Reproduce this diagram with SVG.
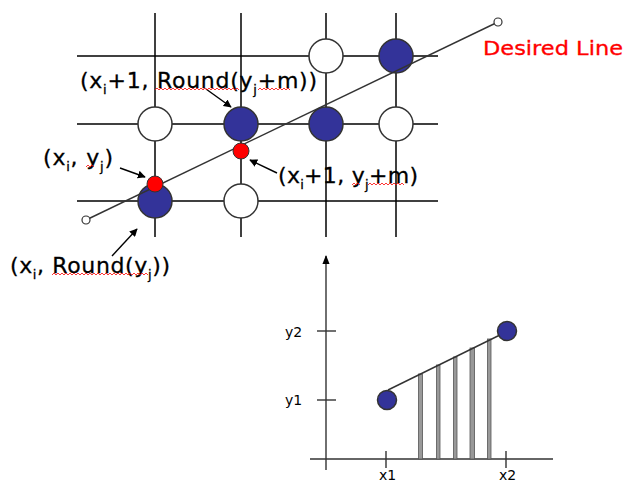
<svg xmlns="http://www.w3.org/2000/svg" width="626" height="482" viewBox="0 0 626 482">
<defs>
<style>
.grid{stroke:#000;stroke-width:1.5;fill:none}
.blue{fill:#333399;stroke:#333;stroke-width:1.5}
.white{fill:#fff;stroke:#333;stroke-width:1.5}
.red{fill:#ff0000;stroke:#333;stroke-width:1}
.ln{stroke:#333;stroke-width:1.4;fill:none}
.arr{stroke:#000;stroke-width:1.4;fill:none;marker-end:url(#ah)}
.lbl{font-family:"DejaVu Sans",Tahoma,sans-serif;font-size:22px;fill:#000;stroke:#000;stroke-width:0.3}
.sub{font-size:13px}
.small{font-family:"DejaVu Sans",Verdana,sans-serif;font-size:14px;fill:#000}
.sq{stroke:#ff0000;stroke-width:0.8;fill:none}
.bar{fill:#999;stroke:#555;stroke-width:0.8}
</style>
<marker id="ah" viewBox="0 0 10 10" refX="9" refY="5" markerWidth="8" markerHeight="8" markerUnits="userSpaceOnUse" orient="auto">
<path d="M0,0 L10,5 L0,10 z" fill="#000"/>
</marker>
<marker id="ah2" viewBox="0 0 10 10" refX="9" refY="5" markerWidth="9" markerHeight="9" markerUnits="userSpaceOnUse" orient="auto">
<path d="M0,1 L10,5 L0,9 z" fill="#000"/>
</marker>
</defs>

<g id="grid">
<line class="grid" x1="155" y1="13" x2="155" y2="237"/>
<line class="grid" x1="241" y1="13" x2="241" y2="237"/>
<line class="grid" x1="326" y1="13" x2="326" y2="237"/>
<line class="grid" x1="396" y1="13" x2="396" y2="237"/>
<line class="grid" x1="77" y1="56" x2="438" y2="56"/>
<line class="grid" x1="77" y1="124" x2="438" y2="124"/>
<line class="grid" x1="77" y1="201" x2="438" y2="201"/>
</g>

<g id="pixels">
<circle id="p1" class="white" cx="326" cy="56" r="17"/>
<circle id="p2" class="blue" cx="396" cy="56" r="17"/>
<circle id="p3" class="white" cx="155" cy="124" r="17"/>
<circle id="p4" class="blue" cx="241" cy="124" r="17"/>
<circle id="p5" class="blue" cx="326" cy="124" r="17"/>
<circle id="p6" class="white" cx="396" cy="124" r="17"/>
<circle id="p7" class="blue" cx="155" cy="201" r="17"/>
<circle id="p8" class="white" cx="241" cy="201" r="17"/>
</g>

<g id="desired-line">
<line class="ln" x1="86" y1="220" x2="498" y2="22"/>
<circle cx="86" cy="220" r="4" fill="#fff" stroke="#333" stroke-width="1.2"/>
<circle cx="498" cy="22" r="4" fill="#fff" stroke="#333" stroke-width="1.2"/>
<text x="483" y="55" font-family="DejaVu Sans,Tahoma,sans-serif" font-size="20" fill="#ff0000" stroke="#ff0000" stroke-width="0.3" textLength="140" lengthAdjust="spacingAndGlyphs">Desired Line</text>
</g>

<g id="red-points">
<circle class="red" cx="155" cy="184" r="8"/>
<circle class="red" cx="241" cy="151" r="8"/>
</g>

<g id="connectors">
<line class="arr" x1="206" y1="89" x2="231" y2="107"/>
<line class="arr" x1="120" y1="168" x2="145" y2="177"/>
<line class="arr" x1="277" y1="173" x2="250" y2="160"/>
<line class="arr" x1="112" y1="256" x2="137" y2="229"/>
</g>

<g id="labels">
<text class="lbl" x="80" y="88" textLength="237" lengthAdjust="spacing">(x<tspan class="sub" dy="6">i</tspan><tspan dy="-6">+1, Round(y</tspan><tspan class="sub" dy="6">j</tspan><tspan dy="-6">+m))</tspan></text>
<text class="lbl" x="43" y="165" textLength="70" lengthAdjust="spacing">(x<tspan class="sub" dy="6">i</tspan><tspan dy="-6">, y</tspan><tspan class="sub" dy="6">j</tspan><tspan dy="-6">)</tspan></text>
<text class="lbl" x="278" y="183" textLength="140" lengthAdjust="spacing">(x<tspan class="sub" dy="6">i</tspan><tspan dy="-6">+1, y</tspan><tspan class="sub" dy="6">j</tspan><tspan dy="-6">+m)</tspan></text>
<text class="lbl" x="10" y="273" textLength="160" lengthAdjust="spacing">(x<tspan class="sub" dy="6">i</tspan><tspan dy="-6">, Round(y</tspan><tspan class="sub" dy="6">j</tspan><tspan dy="-6">))</tspan></text>
<path class="sq" d="M155,90 l2,-2 l2,2 l2,-2 l2,2 l2,-2 l2,2 l2,-2 l2,2 l2,-2 l2,2 l2,-2 l2,2 l2,-2 l2,2 l2,-2 l2,2 l2,-2 l2,2 l2,-2 l2,2 l2,-2 l2,2 l2,-2 l2,2 l2,-2 l2,2 l2,-2 l2,2 l2,-2 l2,2 l2,-2 l2,2 l2,-2 l2,2 l2,-2 l2,2 l2,-2 l2,2 l2,-2 l2,2 l2,-2 l2,2"/>
<path class="sq" d="M258,90 l2,-2 l2,2 l2,-2 l2,2 l2,-2 l2,2 l2,-2 l2,2 l2,-2 l2,2 l2,-2 l2,2 l2,-2 l2,2 l2,-2 l2,2"/>
<path class="sq" d="M86,167 l2,-2 l2,2 l2,-2 l2,2"/>
<path class="sq" d="M352,185 l2,-2 l2,2 l2,-2 l2,2"/>
<path class="sq" d="M368,185 l2,-2 l2,2 l2,-2 l2,2 l2,-2 l2,2 l2,-2 l2,2 l2,-2 l2,2 l2,-2 l2,2 l2,-2 l2,2 l2,-2 l2,2 l2,-2 l2,2"/>
<path class="sq" d="M52,275 l2,-2 l2,2 l2,-2 l2,2 l2,-2 l2,2 l2,-2 l2,2 l2,-2 l2,2 l2,-2 l2,2 l2,-2 l2,2 l2,-2 l2,2 l2,-2 l2,2 l2,-2 l2,2 l2,-2 l2,2 l2,-2 l2,2 l2,-2 l2,2 l2,-2 l2,2 l2,-2 l2,2 l2,-2 l2,2 l2,-2 l2,2 l2,-2 l2,2 l2,-2 l2,2 l2,-2 l2,2 l2,-2 l2,2 l2,-2 l2,2 l2,-2 l2,2 l2,-2 l2,2"/>
</g>

<g id="plot">
<line class="ln" x1="326" y1="470" x2="326" y2="256" stroke="#000" marker-end="url(#ah2)"/>
<line class="ln" x1="310" y1="459" x2="553" y2="459" stroke="#000"/>
<line class="ln" x1="317" y1="331" x2="336" y2="331" stroke="#000"/>
<line class="ln" x1="317" y1="400" x2="336" y2="400" stroke="#000"/>
<line class="ln" x1="386" y1="451" x2="386" y2="468" stroke="#000"/>
<line class="ln" x1="506" y1="451" x2="506" y2="468" stroke="#000"/>
<text class="small" x="285" y="337">y2</text>
<text class="small" x="285" y="405">y1</text>
<text class="small" x="379" y="480">x1</text>
<text class="small" x="499" y="480">x2</text>
<rect class="bar" x="418.5" y="374" width="4" height="85"/>
<rect class="bar" x="436.5" y="365" width="3.5" height="94"/>
<rect class="bar" x="453.5" y="357" width="3.5" height="102"/>
<rect class="bar" x="470" y="348" width="4.5" height="111"/>
<rect class="bar" x="487.5" y="339" width="3.5" height="120"/>
<line class="ln" x1="388" y1="390" x2="506" y2="332"/>
<circle class="blue" cx="387" cy="400" r="9.5"/>
<circle class="blue" cx="507" cy="331" r="9.5"/>
</g>
</svg>
